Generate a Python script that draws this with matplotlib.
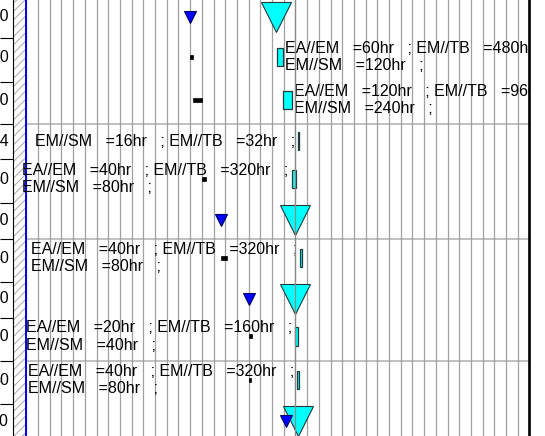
import matplotlib
matplotlib.use("Agg")
import matplotlib.pyplot as plt
from matplotlib.patches import Rectangle
import numpy as np

plt.rcParams['font.family'] = ['Liberation Sans', 'DejaVu Sans']
plt.rcParams['hatch.linewidth'] = 0.7
plt.rcParams['hatch.color'] = '#a8a8a8'

# ---- data -------------------------------------------------------------
# task rows (top to bottom): position on the row axis and id shown in the table
row_pos = [1.65, 5.7, 10.0, 14.1, 17.9, 22.0, 25.8, 29.85, 33.65, 38.0, 42.1]
row_ids = ["120", "60", "120", "24", "40", "320", "40", "160", "20", "40", "480"]
row_bounds = [3.8, 8.2, 12.4, 15.9, 20.3, 23.9, 28.2, 31.8, 36.1, 40.4]
group_bounds = [12.4, 23.9, 36.1]
status_t = 23.0

# milestones (row index, time)
ms_small_rows = [0, 5, 7, 10]
ms_small_t = [14.0, 16.62, 19.03, 22.17]
ms_big_rows = [0, 5, 7, 10]
ms_big_t = [21.34, 23.0, 23.0, 23.2]

# baseline bars (black)
base_rows = [1, 2, 4, 6, 8, 9]
base_start = [14.03, 14.25, 15.02, 16.64, 19.03, 19.03]
base_dur = [0.21, 0.77, 0.34, 0.51, 0.26, 0.17]

# actual bars (cyan) and their labels
act_rows = [1, 2, 3, 4, 6, 8, 9]
act_start = [21.40, 21.94, 23.20, 22.68, 23.39, 22.97, 23.14]
act_dur = [0.51, 0.77, 0.15, 0.37, 0.17, 0.26, 0.17]
ea_em = [60, 120, None, 40, 40, 20, 40]
em_sm = [120, 240, 16, 80, 80, 40, 80]
em_tb = [480, 960, 32, 320, 320, 160, 320]
label_side = ['right', 'right', 'left', 'left', 'left', 'left', 'left']

# ---- figure -------------------------------------------------------------
W, H = 545, 436
fig = plt.figure(figsize=(W / 100, H / 100), dpi=100)
x_left_px, x_right_px = 13.0, 529.4
ax = fig.add_axes([x_left_px / W, 0, (x_right_px - x_left_px) / W, 1])
ax.set_xlim(-1.137, 43.0)
ax.set_ylim(43.6, 0)

ax.set_xticks(np.arange(0, 44))
ax.set_yticks([])
ax.tick_params(length=0, labelbottom=False, labelleft=False)
ax.grid(axis='x', color='#a0a0a0', lw=0.9, zorder=0)
ax.set_axisbelow(True)
for g in group_bounds:
    ax.axhline(g, color='#b0b0b0', lw=1.1, zorder=0.5)

for s in ('top', 'bottom'):
    ax.spines[s].set_visible(False)
ax.spines['left'].set_linewidth(0.8)
ax.spines['right'].set_linewidth(1.9)

# hatched band and start line
ax.axvspan(-1.137, -0.15, facecolor='white', edgecolor='#a8a8a8', hatch='////',
           lw=0, zorder=0.6)
ax.axvline(-0.05, color='#0000ff', lw=1.4, zorder=0.7)

font_size = 11.5
bar_h = 1.85
base_h = 0.4

for r, s, d in zip(base_rows, base_start, base_dur):
    ax.add_patch(Rectangle((s, row_pos[r] - base_h / 2), d, base_h,
                           facecolor='black', edgecolor='black', lw=0.5, zorder=3))

for i, (r, s, d) in enumerate(zip(act_rows, act_start, act_dur)):
    ax.add_patch(Rectangle((s, row_pos[r] - bar_h / 2), d, bar_h,
                           facecolor='#00ffff', edgecolor='#1c3c3c', lw=0.9, zorder=3))
    if ea_em[i] is None:
        txt = f"EM//SM   ={em_sm[i]}hr   ; EM//TB   ={em_tb[i]}hr   ;"
    else:
        txt = (f"EA//EM   ={ea_em[i]}hr   ; EM//TB   ={em_tb[i]}hr   ;\n"
               f"EM//SM   ={em_sm[i]}hr   ;")
    if label_side[i] == 'right':
        ax.annotate(txt, xy=(s + d, row_pos[r]), xytext=(1.5, 0),
                    textcoords='offset points', ha='left', va='center',
                    multialignment='left', fontsize=font_size, linespacing=1.2,
                    clip_on=True, zorder=4)
    else:
        ax.annotate(txt, xy=(s, row_pos[r]), xytext=(-2.2, 0),
                    textcoords='offset points', ha='right', va='center',
                    multialignment='left', fontsize=font_size, linespacing=1.2,
                    clip_on=True, zorder=4)

ax.plot(ms_big_t, [row_pos[r] for r in ms_big_rows], linestyle='none', marker='v',
        markersize=22.1, markerfacecolor='#00ffff', markeredgecolor='#1c3c3c',
        markeredgewidth=0.8, zorder=5)
# status line drawn over the large milestones
ax.axvline(status_t, color='#8a8a8a', lw=0.9, zorder=5.5)
ax.plot(ms_small_t, [row_pos[r] for r in ms_small_rows], linestyle='none', marker='v',
        markersize=8.6, markerfacecolor='#0000ff', markeredgecolor='#000060',
        markeredgewidth=0.8, zorder=6)

# task table column on the left
tab = fig.add_axes([0, 0, x_left_px / W, 1])
tab.set_xlim(0, x_left_px)
tab.set_ylim(43.6, 0)
tab.axis('off')
tab.hlines(row_bounds, 0, x_left_px, color='black', lw=0.8)
for y, lab in zip(row_pos, row_ids):
    tab.text(9.0, y, lab, ha='right', va='center', fontsize=font_size, clip_on=False)

fig.savefig('out.png', dpi=100)
